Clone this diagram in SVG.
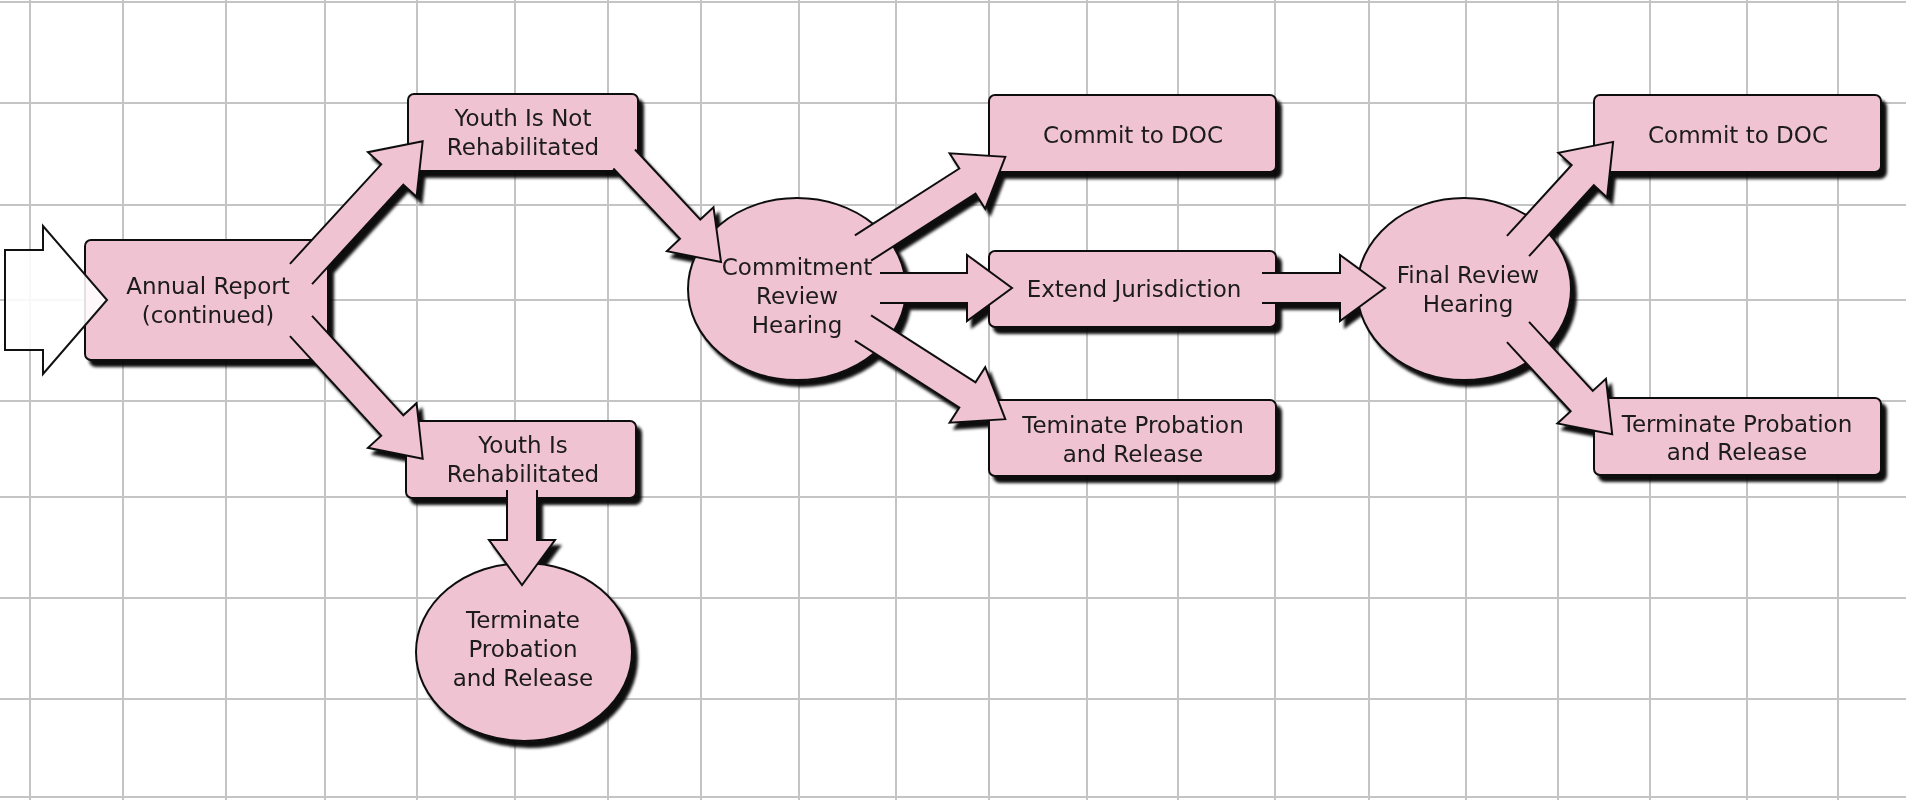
<svg xmlns="http://www.w3.org/2000/svg" width="1906" height="800" viewBox="0 0 1906 800">
<defs>
<style>
.grid line{stroke:#c4c4c4;stroke-width:2}
.node{fill:#f0c3d3;stroke:#111;stroke-width:2}
.arrow{fill:#f0c3d3;stroke:#111;stroke-width:2;stroke-linejoin:miter}
text{font-family:"DejaVu Sans",Verdana,sans-serif;font-size:23px;fill:#1a1a1a;text-anchor:middle}
</style>
<filter id="shadow" x="-10%" y="-10%" width="125%" height="130%">
<feDropShadow dx="5" dy="6" stdDeviation="1.6" flood-color="#000" flood-opacity="0.95"/>
</filter>
</defs>
<rect width="1906" height="800" fill="#fff"/>
<g class="grid">
<line x1="30" y1="0" x2="30" y2="800"/><line x1="123" y1="0" x2="123" y2="800"/><line x1="226" y1="0" x2="226" y2="800"/><line x1="325" y1="0" x2="325" y2="800"/><line x1="417" y1="0" x2="417" y2="800"/><line x1="515" y1="0" x2="515" y2="800"/><line x1="608" y1="0" x2="608" y2="800"/><line x1="701" y1="0" x2="701" y2="800"/><line x1="799" y1="0" x2="799" y2="800"/><line x1="896" y1="0" x2="896" y2="800"/><line x1="989" y1="0" x2="989" y2="800"/><line x1="1087" y1="0" x2="1087" y2="800"/><line x1="1178" y1="0" x2="1178" y2="800"/><line x1="1275" y1="0" x2="1275" y2="800"/><line x1="1369" y1="0" x2="1369" y2="800"/><line x1="1466" y1="0" x2="1466" y2="800"/><line x1="1558" y1="0" x2="1558" y2="800"/><line x1="1650" y1="0" x2="1650" y2="800"/><line x1="1747" y1="0" x2="1747" y2="800"/><line x1="1838" y1="0" x2="1838" y2="800"/>
<line x1="0" y1="2" x2="1906" y2="2"/><line x1="0" y1="103" x2="1906" y2="103"/><line x1="0" y1="205" x2="1906" y2="205"/><line x1="0" y1="300" x2="1906" y2="300"/><line x1="0" y1="401" x2="1906" y2="401"/><line x1="0" y1="497" x2="1906" y2="497"/><line x1="0" y1="598" x2="1906" y2="598"/><line x1="0" y1="699" x2="1906" y2="699"/><line x1="0" y1="797" x2="1906" y2="797"/>
</g>
<g filter="url(#shadow)">
<g id="nodes">
<g id="annual-report"><rect class="node" x="85" y="240" width="243" height="120" rx="6"/><text x="208" y="294">Annual Report</text><text x="208" y="323">(continued)</text></g>
<g id="youth-not-rehab"><rect class="node" x="408" y="94" width="230" height="77" rx="6"/><text x="523" y="126">Youth Is Not</text><text x="523" y="155">Rehabilitated</text></g>
<g id="youth-rehab"><rect class="node" x="406" y="421" width="230" height="77" rx="6"/><text x="523" y="453">Youth Is</text><text x="523" y="482">Rehabilitated</text></g>
<g id="terminate-1"><ellipse class="node" cx="524" cy="652" rx="108" ry="89"/><text x="523" y="628">Terminate</text><text x="523" y="657">Probation</text><text x="523" y="686">and Release</text></g>
<g id="commitment-review"><ellipse class="node" cx="797" cy="289" rx="109" ry="91"/><text x="797" y="275">Commitment</text><text x="797" y="304">Review</text><text x="797" y="333">Hearing</text></g>
<g id="commit-doc-1"><rect class="node" x="989" y="95" width="287" height="77" rx="6"/><text x="1133" y="143">Commit to DOC</text></g>
<g id="extend-jurisdiction"><rect class="node" x="989" y="251" width="287" height="76" rx="6"/><text x="1134" y="297">Extend Jurisdiction</text></g>
<g id="terminate-2"><rect class="node" x="989" y="400" width="287" height="76" rx="6"/><text x="1133" y="433">Teminate Probation</text><text x="1133" y="462">and Release</text></g>
<g id="final-review"><ellipse class="node" cx="1464" cy="289" rx="107" ry="91"/><text x="1468" y="283">Final Review</text><text x="1468" y="312">Hearing</text></g>
<g id="commit-doc-2"><rect class="node" x="1594" y="95" width="287" height="77" rx="6"/><text x="1738" y="143">Commit to DOC</text></g>
<g id="terminate-3"><rect class="node" x="1594" y="398" width="287" height="77" rx="6"/><text x="1737" y="432">Terminate Probation</text><text x="1737" y="460">and Release</text></g>
</g>
<g id="connectors">
<path class="arrow" transform="translate(301,274) rotate(-47.47)" d="M0,-15 H135 V-33 L180,0 L135,33 V15 H0"/>
<path class="arrow" transform="translate(301,326) rotate(47.47)" d="M0,-15 H135 V-33 L180,0 L135,33 V15 H0"/>
<path class="arrow" d="M635,149.5 L700.3,219.6 L713.5,207.3 L721,262 L666.9,251.2 L680,238.8 L613.3,168.5"/>
<path class="arrow" transform="translate(863,248) rotate(-32.65)" d="M0,-15 H124 V-33 L169,0 L124,33 V15 H0"/>
<path class="arrow" transform="translate(880,288)" d="M0,-15 H87 V-33 L132,0 L87,33 V15 H0"/>
<path class="arrow" transform="translate(863,328) rotate(32.65)" d="M0,-15 H124 V-33 L169,0 L124,33 V15 H0"/>
<path class="arrow" transform="translate(1262,288)" d="M0,-15 H78 V-33 L123,0 L78,33 V15 H0"/>
<path class="arrow" transform="translate(1518,246) rotate(-47.59)" d="M0,-15 H96 V-33 L141,0 L96,33 V15 H0"/>
<path class="arrow" transform="translate(1518,332) rotate(47.34)" d="M0,-15 H94 V-33 L139,0 L94,33 V15 H0"/>
<path class="arrow" transform="translate(522,490) rotate(90)" d="M0,-15 H50 V-33 L95,0 L50,33 V15 H0"/>
</g>
</g>
<g id="input-arrow">
<polygon points="5,250 43,250 43,226 107,300 43,374 43,350 5,350" fill="#fff" fill-opacity="0.88" stroke="#111" stroke-width="2"/>
</g>
</svg>
